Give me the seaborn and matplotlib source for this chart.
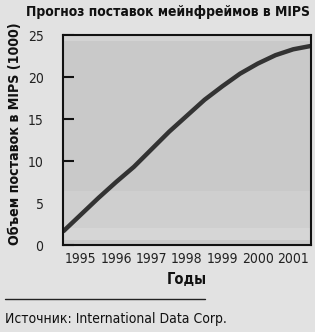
import matplotlib
matplotlib.use("Agg")
import matplotlib.pyplot as plt
import seaborn as sns
import pandas as pd

sns.set_style("white")
plt.rcParams["font.family"] = ["DejaVu Sans"]
plt.rcParams["font.stretch"] = "condensed"

# data
years = [1995.0, 1995.5, 1996.0, 1996.5, 1997.0, 1997.5, 1998.0, 1998.5,
         1999.0, 1999.5, 2000.0, 2000.5, 2001.0, 2001.5, 2002.0]
mips = [1.6, 3.6, 5.6, 7.5, 9.3, 11.4, 13.5, 15.4,
        17.3, 18.9, 20.4, 21.6, 22.6, 23.3, 23.7]
year_labels = ["1995", "1996", "1997", "1998", "1999", "2000", "2001"]
y_ticks = [0, 5, 10, 15, 20, 25]

title = "Прогноз поставок мейнфреймов в MIPS"
ylabel = "Объем поставок в MIPS (1000)"
xlabel = "Годы"
source = "Источник: International Data Corp."

df = pd.DataFrame({"year": years, "mips": mips})

fig = plt.figure(figsize=(3.15, 3.32), dpi=100, facecolor="#e2e2e2")
ax = fig.add_axes([0.2, 0.262, 0.787, 0.6325])
ax.set_facecolor("#c9c9c9")

# lighter bands
ax.axhspan(24.3, 25, color="#d3d3d3", lw=0)
ax.axhspan(0.6, 6.4, color="#cfcfcf", lw=0)
ax.axhspan(0.6, 2.0, color="#d6d6d6", lw=0)

sns.lineplot(data=df, x="year", y="mips", ax=ax, color="#333333", lw=3.2,
             solid_capstyle="butt")

ax.set_xlim(1995, 2002)
ax.set_ylim(0, 25)
ax.set_yticks(y_ticks)
ax.set_yticklabels([str(v) for v in y_ticks], fontsize=10, color="#222222")
ax.set_xticks([y + 0.5 for y in range(1995, 2002)])
ax.set_xticklabels(year_labels, fontsize=10, color="#222222")
ax.set_xticks(list(range(1996, 2002)), minor=True)
ax.tick_params(axis="x", which="major", length=0, pad=5)
ax.tick_params(axis="x", which="minor", direction="in", length=8, width=1.5,
               color="#111111")
ax.tick_params(axis="y", direction="in", length=8, width=1.5, pad=14,
               color="#111111", left=True)
for s in ax.spines.values():
    s.set_visible(True)
    s.set_color("#111111")
    s.set_linewidth(1.5)

ax.set_xlabel(xlabel, fontsize=10.5, fontweight="heavy", labelpad=4, color="#111111")
ax.set_ylabel(ylabel, fontsize=10.2, fontweight="heavy", color="#111111")
ax.yaxis.set_label_coords(-0.165, 0.53)

fig.text(0.985, 0.965, title, ha="right", va="center", fontsize=10,
         fontweight="heavy", color="#111111")
fig.add_artist(plt.Line2D([0.016, 0.65], [0.098, 0.098], color="#222222", lw=1))
fig.text(0.016, 0.04, source, ha="left", va="center", fontsize=10, color="#111111")

fig.savefig("out.png", dpi=100, facecolor=fig.get_facecolor())
